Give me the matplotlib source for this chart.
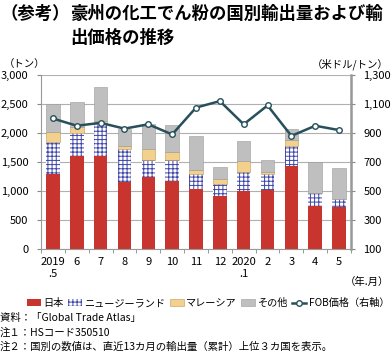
import numpy as np
import matplotlib.pyplot as plt
from matplotlib.patches import Patch
from matplotlib.lines import Line2D

plt.rcParams['font.family'] = ['Noto Sans CJK JP', 'DejaVu Sans']
plt.rcParams['hatch.linewidth'] = 0.7

months = ['2019\n.5', '6', '7', '8', '9', '10', '11', '12', '2020\n.1', '2', '3', '4', '5']
japan = [1290, 1600, 1600, 1150, 1250, 1180, 1030, 920, 1000, 1020, 1430, 740, 720]
nz = [560, 400, 550, 570, 290, 350, 260, 200, 330, 270, 350, 220, 150]
malaysia = [160, 100, 50, 60, 180, 140, 70, 80, 190, 30, 100, 0, 0]
other = [490, 430, 590, 290, 430, 460, 590, 220, 340, 210, 190, 540, 530]
fob = [1000, 950, 970, 930, 960, 890, 1075, 1120, 960, 1090, 880, 950, 920]

c_japan = '#c8352e'
c_nz = '#3d45a8'
c_mal = '#f3d08c'
c_other = '#bfbfbf'
c_line = '#27505a'

fig = plt.figure(figsize=(3.91, 3.61), dpi=100)
ax = fig.add_axes([41 / 391, 1 - 249 / 361, 310 / 391, 174 / 361])
x = np.arange(len(months))
w = 0.57

b1 = np.array(japan)
b2 = b1 + np.array(nz)
b3 = b2 + np.array(malaysia)
ax.bar(x, japan, w, color=c_japan, linewidth=0, zorder=2)
ax.bar(x, nz, w, bottom=b1, facecolor='white', edgecolor=c_nz, hatch='++++', linewidth=0, zorder=2)
ax.bar(x, malaysia, w, bottom=b2, facecolor=c_mal, edgecolor='#b89a60', linewidth=0.4, zorder=2)
ax.bar(x, other, w, bottom=b3, facecolor=c_other, edgecolor='#9a9a9a', linewidth=0.4, zorder=2)

ax.set_xlim(-0.5, len(months) - 0.5)
ax.set_ylim(0, 3000)
ax.set_yticks(np.arange(0, 3001, 500))
ax.set_yticklabels(['{:,}'.format(v) for v in range(0, 3001, 500)])
ax.yaxis.grid(True, color='#b0b0b0', linewidth=0.8, zorder=0)
ax.set_axisbelow(True)
ax.set_xticks(x)
ax.set_xticklabels(months)
ax.set_xticks(np.arange(-0.5, len(months), 1), minor=True)
ax.tick_params(axis='x', which='major', length=0, labelsize=8, pad=6)
ax.tick_params(axis='x', which='minor', length=3, color='#888888')
ax.tick_params(axis='y', length=3, color='#888888', labelsize=8, pad=6)
ax.spines['top'].set_visible(False)
for s in ['left', 'bottom', 'right']:
    ax.spines[s].set_color('#999999')

ax2 = ax.twinx()
ax2.plot(x, fob, color=c_line, linewidth=1.8, marker='o', markersize=4,
         markerfacecolor='white', markeredgecolor=c_line, markeredgewidth=1, zorder=5)
ax2.set_ylim(100, 1300)
ax2.set_yticks(np.arange(100, 1301, 200))
ax2.set_yticklabels(['{:,}'.format(v) for v in range(100, 1301, 200)])
ax2.tick_params(axis='y', length=3, color='#888888', labelsize=8, pad=6)
ax2.spines['top'].set_visible(False)
ax2.spines['left'].set_visible(False)
ax2.spines['bottom'].set_visible(False)
ax2.spines['right'].set_color('#999999')
ax2.spines['right'].set_linewidth(1.8)

fig.text(0.0, 1 - 14 / 361, '（参考）', fontsize=12.5, fontweight='bold', va='center', ha='left')
fig.text(70 / 391, 1 - 14 / 361, '豪州の化工でん粉の国別輸出量および輸', fontsize=12.5,
         fontweight='bold', va='center', ha='left')
fig.text(70 / 391, 1 - 38 / 361, '出価格の推移', fontsize=12.5, fontweight='bold', va='center', ha='left')
fig.text(4 / 391, 1 - 64 / 361, '（トン）', fontsize=7.5, va='center', ha='left')
fig.text(389 / 391, 1 - 64 / 361, '（米ドル/トン）', fontsize=7.5, va='center', ha='right')
fig.text(389 / 391, 1 - 282 / 361, '（年.月）', fontsize=7.5, va='center', ha='right')

handles = [
    Patch(facecolor=c_japan, linewidth=0),
    Patch(facecolor='white', edgecolor=c_nz, hatch='++++', linewidth=0),
    Patch(facecolor=c_mal, edgecolor='#b89a60', linewidth=0.4),
    Patch(facecolor=c_other, edgecolor='#9a9a9a', linewidth=0.4),
    Line2D([], [], color=c_line, linewidth=1.8, marker='o', markersize=4,
           markerfacecolor='white', markeredgecolor=c_line),
]
labels = ['日本', 'ニュージーランド', 'マレーシア', 'その他', 'FOB価格（右軸）']
fig.legend(handles, labels, loc='center', bbox_to_anchor=(208 / 391, 1 - 303 / 361), ncol=5,
           frameon=False, fontsize=7.3, handlelength=1.4, handleheight=0.6,
           handletextpad=0.25, columnspacing=0.4, borderaxespad=0, borderpad=0)

notes = ['資料：「Global Trade Atlas」',
         '注１：HSコード350510',
         '注２：国別の数値は、直近13カ月の輸出量（累計）上位３カ国を表示。']
for i, t in enumerate(notes):
    fig.text(0.0, 1 - (318 + 14.5 * i) / 361, t, fontsize=7.5, va='center', ha='left')

fig.savefig('out.png', dpi=100)
